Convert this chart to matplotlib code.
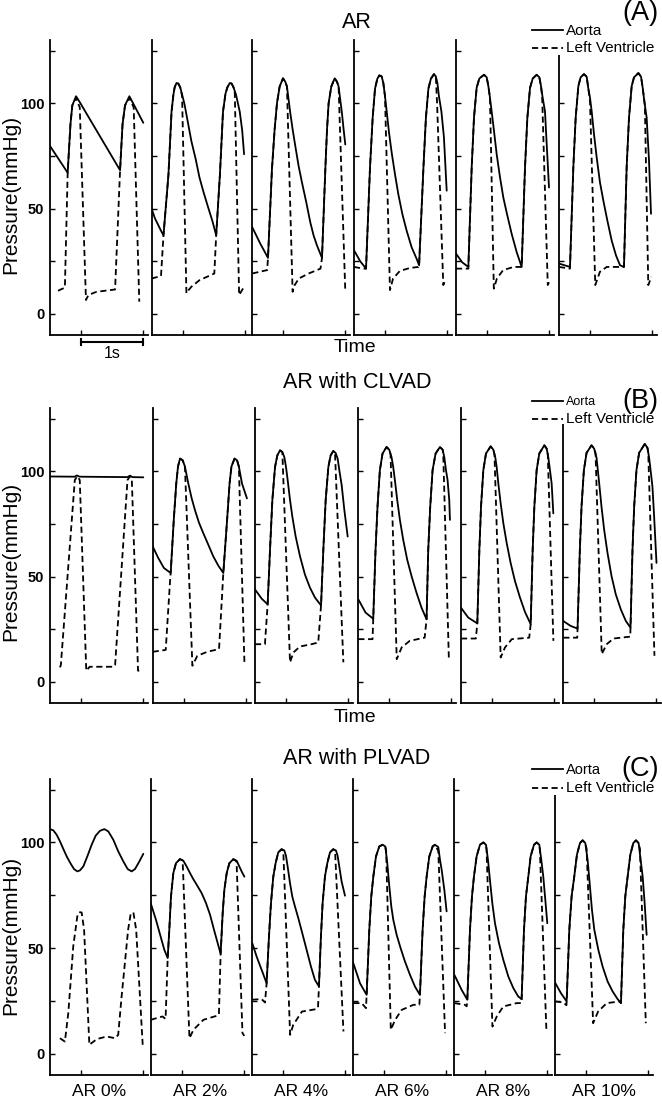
import matplotlib
matplotlib.use("Agg")
import matplotlib.pyplot as plt
from matplotlib.lines import Line2D
from matplotlib.patches import Rectangle
import matplotlib.transforms as mtransforms

plt.rcParams['font.family'] = ['Liberation Sans', 'DejaVu Sans']

# ---------------- data (time s, pressure mmHg) ----------------
row_titles = ["AR", "AR with CLVAD", "AR with PLVAD"]
row_tags = ["(A)", "(B)", "(C)"]
col_labels = ["AR 0%", "AR 2%", "AR 4%", "AR 6%", "AR 8%", "AR 10%"]
legend_labels = ["Aorta", "Left Ventricle"]
ytick_values = [0, 25, 50, 75, 100, 125]
ytick_labels = ["0", "", "50", "", "100", ""]
xtick_values = [0.5, 1.5]

# Row A: AR
A0_AORTA = [(0,79.7),(0.285,67),(0.33,90),(0.36,99),(0.42,103.3),(0.48,100.5),(1.13,68.2),(1.17,90),(1.21,99),(1.28,103.3),(1.34,100),(1.505,90.7)]
A0_LV = [(0.13,11),(0.24,12.5),(0.285,67),(0.33,90),(0.36,99),(0.42,102.5),(0.48,98),(0.58,6.6),(0.62,9),(0.75,10.5),(1.05,11.6),(1.13,68.2),(1.17,90),(1.21,99),(1.28,102.5),(1.35,98),(1.44,5.8)]
A2_AORTA = [(0,49.9),(0.05,45.5),(0.1,42.5),(0.15,39.5),(0.19,37.3),(0.27,66),(0.32,96),(0.35,104),(0.37,107.5),(0.40,109.6),(0.43,109.3),(0.46,107.5),(0.50,103),(0.53,99.4),(0.585,90.7),(0.64,82),(0.71,73.4),(0.77,64.8),(0.84,57.4),(0.91,50.6),(0.98,44),(1.04,37.3),(1.10,66),(1.15,96),(1.19,104.5),(1.22,107.5),(1.26,109.6),(1.29,109.3),(1.32,107.5),(1.36,104),(1.42,96),(1.46,87),(1.49,75.8)]
A2_LV = [(0,16.8),(0.15,18),(0.19,37.3),(0.27,66),(0.32,96),(0.35,104),(0.37,107.5),(0.40,109.6),(0.43,109.3),(0.46,107.5),(0.49,103.5),(0.56,9.8),(0.60,11.5),(0.64,12.9),(0.77,16),(1.01,19.2),(1.04,37.3),(1.10,66),(1.15,96),(1.19,104.5),(1.22,107.5),(1.26,109.6),(1.29,109.3),(1.32,107.5),(1.34,105),(1.41,9),(1.49,12.9)]
A4_AORTA = [(0,41.1),(0.13,33.3),(0.253,26.6),(0.317,68.7),(0.36,87.5),(0.398,100),(0.441,107.9),(0.495,111.8),(0.532,110.2),(0.559,107.9),(0.586,101.6),(0.613,95.3),(0.651,87.5),(0.694,79.6),(0.747,70.2),(0.801,62.4),(0.871,52.9),(0.935,43.5),(0.989,37.2),(1.043,32.5),(1.124,26.6),(1.178,68.7),(1.205,87.5),(1.231,100),(1.274,107.9),(1.328,111.8),(1.366,110.2),(1.392,107.9),(1.419,101.6),(1.446,95.3),(1.473,87.5),(1.50,80.4)]
A4_LV = [(0,19.2),(0.24,20.8),(0.253,26.6),(0.317,68.7),(0.36,87.5),(0.398,100),(0.441,107.9),(0.495,111.8),(0.532,110.2),(0.559,107.9),(0.65,10.5),(0.68,13.5),(0.75,16.8),(0.91,19.2),(1.10,21.5),(1.124,26.6),(1.178,68.7),(1.205,87.5),(1.231,100),(1.274,107.9),(1.328,111.8),(1.366,110.2),(1.392,107.9),(1.50,10.5)]
A6_AORTA = [(0,30.2),(0.10,25),(0.194,21.5),(0.258,69.5),(0.301,93.1),(0.339,106.9),(0.376,111.6),(0.409,113.2),(0.446,112.7),(0.473,109.6),(0.50,103.3),(0.527,96.2),(0.565,86),(0.608,76.5),(0.661,66.3),(0.715,56.8),(0.78,47.4),(0.849,39.5),(0.93,31.6),(1.011,26.1),(1.05,23.1),(1.12,69.5),(1.16,93.1),(1.20,106.9),(1.24,111.6),(1.29,113.8),(1.32,112.7),(1.345,109.6),(1.37,103.3),(1.41,96),(1.45,84),(1.495,58.5)]
A6_LV = [(0,22.3),(0.15,21.5),(0.194,21.5),(0.258,69.5),(0.301,93.1),(0.339,106.9),(0.376,111.6),(0.409,113.2),(0.446,112.7),(0.473,109.6),(0.50,103.3),(0.58,11.3),(0.63,16.8),(0.74,20.4),(0.90,21.8),(1.04,22.3),(1.05,23.1),(1.12,69.5),(1.16,93.1),(1.20,106.9),(1.24,111.6),(1.29,113.8),(1.32,112.7),(1.34,100),(1.44,13.7),(1.46,15)]
A8_AORTA = [(0,28.6),(0.10,24.5),(0.199,22.3),(0.253,69.5),(0.29,93.1),(0.333,107.3),(0.376,111.7),(0.452,113.5),(0.495,112.3),(0.522,108.1),(0.548,102.6),(0.575,96.2),(0.613,86.8),(0.656,75.8),(0.71,64.8),(0.763,55.3),(0.828,46.7),(0.898,38),(0.978,29.4),(1.059,22.3),(1.113,69.5),(1.151,93.1),(1.194,107.3),(1.237,111.7),(1.301,113.5),(1.344,112.3),(1.371,108.1),(1.398,102.6),(1.435,96.2),(1.462,81.1),(1.50,60)]
A8_LV = [(0,21.5),(0.199,21.5),(0.253,69.5),(0.29,93.1),(0.333,107.3),(0.376,111.7),(0.452,113.5),(0.495,112.3),(0.522,108.1),(0.548,102.6),(0.61,12),(0.66,16.8),(0.76,20.8),(0.93,22.3),(1.059,22.3),(1.113,69.5),(1.151,93.1),(1.194,107.3),(1.237,111.7),(1.301,113.5),(1.344,112.3),(1.371,108.1),(1.39,102.6),(1.48,13.7),(1.50,15)]
A10_AORTA = [(0,23.9),(0.177,22.3),(0.231,69.5),(0.269,93.1),(0.312,108.1),(0.349,112.3),(0.403,113.8),(0.446,112.6),(0.473,107),(0.50,102.6),(0.527,96.2),(0.565,85.2),(0.608,74.2),(0.661,62.4),(0.715,53.8),(0.78,44.3),(0.849,34.9),(0.919,27.8),(0.984,23.1),(1.048,22.3),(1.091,69.5),(1.129,93.1),(1.172,108.1),(1.21,112.3),(1.28,114.3),(1.323,112.6),(1.35,107.3),(1.376,101),(1.414,93.1),(1.452,72.6),(1.484,47.5)]
A10_LV = [(0,22.3),(0.177,21.5),(0.231,69.5),(0.269,93.1),(0.312,108.1),(0.349,112.3),(0.403,113.8),(0.446,112.6),(0.473,107),(0.50,101),(0.585,13.7),(0.66,20),(0.77,22.3),(1.048,22.3),(1.091,69.5),(1.129,93.1),(1.172,108.1),(1.21,112.3),(1.28,114.3),(1.323,112.6),(1.35,107.3),(1.385,99),(1.44,13.7),(1.49,17.6)]

# Row B: AR with CLVAD
B0_AORTA = [(0,97.5),(0.40,97.4),(0.43,98),(0.48,97.4),(1.25,97.2),(1.29,97.9),(1.33,97.2),(1.505,97.1)]
B0_LV = [(0.16,6.9),(0.175,8),(0.40,95.8),(0.44,97.6),(0.48,95.8),(0.585,5.3),(0.64,7.2),(1.03,7.2),(1.05,8),(1.25,95.8),(1.29,97.6),(1.32,95.8),(1.42,5.3),(1.45,5.6)]
B2_AORTA = [(0,64.3),(0.09,58.8),(0.18,54.1),(0.29,51.7),(0.34,76.9),(0.38,94.2),(0.408,102.2),(0.44,106),(0.483,105.2),(0.52,102.2),(0.574,94.2),(0.628,87.2),(0.681,81.6),(0.746,75.6),(0.816,70.6),(0.897,65.1),(0.977,59.6),(1.058,55.2),(1.139,51.7),(1.20,76.9),(1.24,94.2),(1.27,102.2),(1.32,106),(1.36,105.2),(1.39,102.2),(1.44,94.2),(1.52,87.1)]
B2_LV = [(0,14.3),(0.21,15.2),(0.28,48),(0.29,51.7),(0.34,76.9),(0.38,94.2),(0.408,102.2),(0.44,106),(0.483,105.2),(0.52,102.2),(0.64,7.7),(0.72,12.4),(0.88,14.3),(1.07,15.6),(1.139,51.7),(1.20,76.9),(1.24,94.2),(1.27,102.2),(1.32,106),(1.36,105.2),(1.39,102.2),(1.48,8.5)]
B4_AORTA = [(0,43.9),(0.108,39.5),(0.204,36.8),(0.242,62.7),(0.28,86.3),(0.323,102),(0.36,107.5),(0.403,109.9),(0.441,109.1),(0.473,106.7),(0.50,102),(0.527,95.8),(0.565,86.3),(0.602,78.5),(0.656,69),(0.726,59.6),(0.806,50.9),(0.887,44.7),(0.968,40),(1.065,36.3),(1.102,62.7),(1.14,86.3),(1.183,102),(1.22,107.5),(1.263,109.6),(1.30,108.7),(1.333,106),(1.36,100.5),(1.398,93.4),(1.441,81.6),(1.495,69)]
B4_LV = [(0,17.9),(0.16,17.9),(0.204,36.8),(0.242,62.7),(0.28,86.3),(0.323,102),(0.36,107.5),(0.403,109.9),(0.441,109.1),(0.565,9.3),(0.62,14),(0.725,16.8),(0.91,17.9),(1.02,18.7),(1.065,36.3),(1.102,62.7),(1.14,86.3),(1.183,102),(1.22,107.5),(1.263,109.6),(1.29,108.9),(1.425,9.3)]
B6_AORTA = [(0,39.2),(0.117,32.9),(0.241,30),(0.278,62.7),(0.31,83.2),(0.348,100.5),(0.391,108.4),(0.456,111.5),(0.499,110.2),(0.536,106.7),(0.563,102),(0.59,95.8),(0.628,86.3),(0.671,76.9),(0.724,67.5),(0.789,58),(0.859,50.2),(0.939,42.3),(1.02,35.2),(1.101,29.7),(1.128,62.7),(1.16,83.2),(1.198,100.5),(1.247,108.4),(1.317,111.5),(1.36,110.2),(1.387,106.7),(1.414,100.5),(1.44,95.8),(1.467,86.3),(1.478,76.9)]
B6_LV = [(0,20.3),(0.23,20.3),(0.241,30),(0.278,62.7),(0.31,83.2),(0.348,100.5),(0.391,108.4),(0.456,111.5),(0.499,110.2),(0.52,108),(0.62,10.8),(0.70,16.4),(0.83,19.5),(1.07,21),(1.101,29.7),(1.128,62.7),(1.16,83.2),(1.198,100.5),(1.247,108.4),(1.317,111.5),(1.36,110.2),(1.37,108.5),(1.46,11.6)]
B8_AORTA = [(0,35.2),(0.118,30.5),(0.263,27.8),(0.296,62.7),(0.323,83.2),(0.36,100.5),(0.403,108.4),(0.478,111.8),(0.522,110.2),(0.554,106.4),(0.575,102),(0.602,94.2),(0.64,84.7),(0.683,75.3),(0.737,65.9),(0.801,56.4),(0.871,47.8),(0.952,40),(1.032,33.2),(1.124,27.4),(1.156,62.7),(1.183,83.2),(1.22,100.5),(1.263,108.4),(1.344,112.3),(1.382,110.7),(1.409,106.4),(1.435,100.5),(1.462,94.2),(1.489,80)]
B8_LV = [(0,20.6),(0.24,20.6),(0.263,27.8),(0.296,62.7),(0.323,83.2),(0.36,100.5),(0.403,108.4),(0.478,111.8),(0.522,110.2),(0.54,108),(0.64,11.6),(0.71,16.4),(0.82,20.3),(1.10,21),(1.124,27.4),(1.156,62.7),(1.183,83.2),(1.22,100.5),(1.263,108.4),(1.344,112.3),(1.382,110.7),(1.40,108),(1.49,19.5)]
B10_AORTA = [(0,28.9),(0.117,26.6),(0.23,25.3),(0.267,62.7),(0.294,83.2),(0.332,100.5),(0.375,108.7),(0.455,112.3),(0.498,110.7),(0.536,106.4),(0.557,100.5),(0.579,94.2),(0.616,83.2),(0.659,72.2),(0.713,61.2),(0.778,50.2),(0.847,41.5),(0.928,34.4),(1.009,28.9),(1.084,25.8),(1.116,62.7),(1.143,83.2),(1.18,100.5),(1.223,108.7),(1.315,113),(1.358,111),(1.384,106.4),(1.411,99.7),(1.438,92.6),(1.465,78.5),(1.503,56.5)]
B10_LV = [(0,21),(0.225,21),(0.23,25.3),(0.267,62.7),(0.294,83.2),(0.332,100.5),(0.375,108.7),(0.455,112.3),(0.498,110.7),(0.52,108.5),(0.62,13.2),(0.70,17.9),(0.81,20.6),(1.08,21.5),(1.084,25.8),(1.116,62.7),(1.143,83.2),(1.18,100.5),(1.223,108.7),(1.315,113),(1.358,111),(1.37,109),(1.47,12.4)]

# Row C: AR with PLVAD
C0_AORTA = [(0,106.3),(0.054,105.7),(0.108,103.6),(0.161,100.5),(0.215,96.9),(0.269,93.4),(0.333,90),(0.387,87.4),(0.441,86.3),(0.484,86.8),(0.538,88.7),(0.602,93.4),(0.672,98.9),(0.737,103.2),(0.806,105.5),(0.876,106.3),(0.941,105.2),(1.022,101.2),(1.102,95.7),(1.183,91),(1.253,87.4),(1.317,86.3),(1.371,87.4),(1.441,91),(1.505,94.6)]
C0_LV = [(0.16,7.4),(0.24,5.8),(0.295,19.3),(0.375,50.8),(0.44,65),(0.47,67),(0.51,66.9),(0.55,58.7),(0.635,4.3),(0.755,7),(0.915,8.2),(1.05,7.4),(1.10,9),(1.155,27.1),(1.26,58.7),(1.30,66),(1.345,66.9),(1.39,58.7),(1.495,4.3)]
C2_AORTA = [(0,71.3),(0.085,63.4),(0.16,55.5),(0.22,49.2),(0.274,45.3),(0.30,58.6),(0.327,74.4),(0.365,85.5),(0.408,90.2),(0.472,92.1),(0.527,91.3),(0.58,88.6),(0.634,85.5),(0.688,82.6),(0.752,79.5),(0.822,76),(0.892,71.3),(0.957,65.8),(1.021,58.7),(1.08,52.4),(1.128,47.3),(1.161,66.6),(1.188,77.6),(1.226,85.5),(1.269,90.2),(1.333,92.1),(1.387,91.3),(1.43,88.6),(1.468,86.2),(1.511,83.8)]
C2_LV = [(0,16.1),(0.19,17.7),(0.24,16.5),(0.274,45.3),(0.30,58.6),(0.327,74.4),(0.365,85.5),(0.408,90.2),(0.472,92.1),(0.515,91.5),(0.625,7.4),(0.69,11.4),(0.85,16.1),(1.065,18),(1.10,18.5),(1.128,47.3),(1.161,66.6),(1.188,77.6),(1.226,85.5),(1.269,90.2),(1.333,92.1),(1.385,91),(1.48,9.8),(1.51,8.5)]
C4_AORTA = [(0,52.3),(0.07,46),(0.151,39.7),(0.231,33.4),(0.269,55.5),(0.301,71.3),(0.339,83.9),(0.376,90.2),(0.419,95.3),(0.473,96.8),(0.516,96.2),(0.543,93.7),(0.57,88.6),(0.608,80.8),(0.645,74.4),(0.688,69.7),(0.742,64.2),(0.806,57.1),(0.876,49.2),(0.946,41.3),(1.01,35),(1.075,31.9),(1.107,55.5),(1.134,71.3),(1.172,83.9),(1.21,90.2),(1.253,95.3),(1.306,96.8),(1.349,96.2),(1.376,93.7),(1.403,88.6),(1.44,81.6),(1.495,74.8)]
C4_LV = [(0,25.6),(0.15,25.9),(0.205,24.3),(0.231,33.4),(0.269,55.5),(0.301,71.3),(0.339,83.9),(0.376,90.2),(0.419,95.3),(0.473,96.8),(0.50,96),(0.61,9),(0.66,13.7),(0.80,20),(1.04,21.2),(1.06,22),(1.075,31.9),(1.107,55.5),(1.134,71.3),(1.172,83.9),(1.21,90.2),(1.253,95.3),(1.306,96.8),(1.335,96),(1.47,10.6)]
C6_AORTA = [(0,42.9),(0.108,33.4),(0.215,27.9),(0.258,58.7),(0.29,74.5),(0.323,83.9),(0.366,93.4),(0.419,98.1),(0.473,98.9),(0.516,98.1),(0.548,90.2),(0.581,79.2),(0.613,69.7),(0.645,63.4),(0.699,56.3),(0.763,50),(0.833,43.7),(0.914,37.4),(0.995,31.8),(1.075,27.9),(1.118,58.7),(1.151,74.5),(1.183,83.9),(1.226,93.4),(1.28,98.1),(1.317,98.9),(1.371,97.8),(1.398,91.8),(1.425,87.1),(1.468,77.6),(1.505,67.4)]
C6_LV = [(0,24),(0.135,24),(0.205,21.6),(0.215,27.9),(0.258,58.7),(0.29,74.5),(0.323,83.9),(0.366,93.4),(0.419,98.1),(0.473,98.9),(0.516,98.1),(0.53,96),(0.605,11.4),(0.675,16.1),(0.78,20.8),(0.97,23.2),(1.065,23.2),(1.075,27.9),(1.118,58.7),(1.151,74.5),(1.183,83.9),(1.226,93.4),(1.28,98.1),(1.317,98.9),(1.371,96),(1.48,9.8)]
C8_AORTA = [(0,37.4),(0.118,30.3),(0.21,25.6),(0.253,58.7),(0.285,74.5),(0.317,83.9),(0.36,93.4),(0.414,98.9),(0.468,100),(0.511,98.9),(0.543,91.8),(0.575,82.3),(0.613,71.3),(0.656,61.8),(0.72,52.4),(0.79,44.5),(0.871,36.6),(0.952,31.1),(1.032,27.1),(1.086,25.9),(1.124,58.7),(1.156,74.5),(1.194,83.9),(1.231,93.4),(1.285,98.9),(1.328,100),(1.371,98.9),(1.403,91.8),(1.435,83.9),(1.468,72.8),(1.50,61.8)]
C8_LV = [(0,24),(0.17,23.2),(0.20,22.5),(0.21,25.6),(0.253,58.7),(0.285,74.5),(0.317,83.9),(0.36,93.4),(0.414,98.9),(0.468,100),(0.511,98.9),(0.52,96.5),(0.615,12.9),(0.685,17.7),(0.79,22.4),(1.005,24),(1.08,24),(1.086,25.9),(1.124,58.7),(1.156,74.5),(1.194,83.9),(1.231,93.4),(1.285,98.9),(1.328,100),(1.371,98.9),(1.38,96.5),(1.485,11.4)]
C10_AORTA = [(0,33.5),(0.091,28.7),(0.183,24.8),(0.226,58.7),(0.263,74.5),(0.306,83.9),(0.349,94.2),(0.398,99.7),(0.441,101),(0.484,99.7),(0.521,91.8),(0.554,80.8),(0.591,68.2),(0.629,58.7),(0.694,49.2),(0.763,41.3),(0.844,34.2),(0.925,29.5),(1.005,25.9),(1.059,24),(1.097,58.7),(1.129,74.5),(1.167,83.9),(1.21,94.2),(1.258,99.7),(1.301,101),(1.344,99.7),(1.376,91.8),(1.409,83.9),(1.441,71.3),(1.473,56.3)]
C10_LV = [(0,24.8),(0.13,24.3),(0.18,23),(0.183,24.8),(0.226,58.7),(0.263,74.5),(0.306,83.9),(0.349,94.2),(0.398,99.7),(0.441,101),(0.484,99.7),(0.505,97),(0.61,14.5),(0.69,20),(0.83,24),(1.04,24.8),(1.059,24),(1.097,58.7),(1.129,74.5),(1.167,83.9),(1.21,94.2),(1.258,99.7),(1.301,101),(1.344,99.7),(1.365,97),(1.46,14.5)]

ROWS = [
    [(A0_AORTA, A0_LV), (A2_AORTA, A2_LV), (A4_AORTA, A4_LV), (A6_AORTA, A6_LV), (A8_AORTA, A8_LV), (A10_AORTA, A10_LV)],
    [(B0_AORTA, B0_LV), (B2_AORTA, B2_LV), (B4_AORTA, B4_LV), (B6_AORTA, B6_LV), (B8_AORTA, B8_LV), (B10_AORTA, B10_LV)],
    [(C0_AORTA, C0_LV), (C2_AORTA, C2_LV), (C4_AORTA, C4_LV), (C6_AORTA, C6_LV), (C8_AORTA, C8_LV), (C10_AORTA, C10_LV)],
]

# ---------------- layout (pixels) ----------------
W, H = 662, 1100
fig = plt.figure(figsize=(W / 100, H / 100), dpi=100)

def fx(px):
    return px / W

def fy(py):
    return 1 - py / H

row_top = [40, 408, 779]
row_bottom = [335, 703, 1075]
row_left = [[50, 151.7, 252.3, 354, 456, 559],
            [50, 152.7, 255, 358.3, 461, 563.3],
            [50, 150.7, 252.3, 353.3, 454.3, 555.3]]
panel_w = 98
px_per_s = 62.0

LW = 1.3
DASH = (3.4, 2.0)

axes = []
for r in range(3):
    for c in range(6):
        l = row_left[r][c]
        ax = fig.add_axes([fx(l), fy(row_bottom[r]), fx(panel_w), (row_bottom[r] - row_top[r]) / H])
        ax.patch.set_visible(False)
        aorta, lv = ROWS[r][c]
        ax.plot([p[0] for p in aorta], [p[1] for p in aorta], color='black', lw=LW,
                solid_joinstyle='round', solid_capstyle='round')
        ax.plot([p[0] for p in lv], [p[1] for p in lv], color='black', lw=LW, linestyle=(0, DASH))
        ax.set_xlim(0, panel_w / px_per_s)
        ax.set_ylim(-10, 130)
        for s in ['top', 'right']:
            ax.spines[s].set_visible(False)
        for s in ['left', 'bottom']:
            ax.spines[s].set_linewidth(1.3)
        ax.set_xticks(xtick_values)
        ax.set_xticklabels([])
        ax.set_yticks(ytick_values)
        if c == 0:
            ax.set_yticklabels(ytick_labels, fontsize=10.5, fontweight='bold')
        else:
            ax.set_yticklabels([])
        ax.tick_params(direction='in', length=3.5, width=1.0, pad=4)
        axes.append(ax)

# titles, tags, labels
title_y = [22, 383, 758]
for r in range(3):
    fig.text(fx(357), fy(title_y[r]), row_titles[r], ha='center', va='center', fontsize=15.5)
tag_y = [13, 401, 769]
for r in range(3):
    fig.text(fx(640), fy(tag_y[r]), row_tags[r], ha='center', va='center', fontsize=19.5, zorder=12)

ylab_y = [194, 561, 935]
for r in range(3):
    fig.text(fx(11), fy(ylab_y[r]), "Pressure(mmHg)", rotation=90, ha='center', va='center', fontsize=15)

for y in [348, 718]:
    fig.text(fx(355), fy(y), "Time", ha='center', va='center', fontsize=14)

for c in range(6):
    fig.text(fx(row_left[2][c] + 49), fy(1092), col_labels[c], ha='center', va='center', fontsize=12.5)

# legends (white box hides the top of the last panel)
box_top = [18, 390, 757]
box_bottom = [55, 424, 795]
leg_y = [(30, 48), (401, 419), (769, 788)]
aorta_fs = [11, 9.0, 10.5]
for r in range(3):
    fig.add_artist(Rectangle((fx(528), fy(box_bottom[r])), fx(662 - 528), (box_bottom[r] - box_top[r]) / H,
                             transform=fig.transFigure, facecolor='white', edgecolor='none', zorder=10))
    ya, yl = leg_y[r]
    fig.add_artist(Line2D([fx(532), fx(563)], [fy(ya), fy(ya)], transform=fig.transFigure,
                          color='black', lw=LW, zorder=11))
    fig.add_artist(Line2D([fx(532), fx(563)], [fy(yl), fy(yl)], transform=fig.transFigure,
                          color='black', lw=LW, linestyle=(0, DASH), zorder=11))
    fig.text(fx(566), fy(ya + 1), legend_labels[0], ha='left', va='center', fontsize=aorta_fs[r], zorder=12)
    fig.text(fx(566), fy(yl), legend_labels[1], ha='left', va='center', fontsize=11, zorder=12)

# 1 s scale bar under first panel of row A
ax0 = axes[0]
tr = mtransforms.blended_transform_factory(ax0.transData, fig.transFigure)
ax0.add_line(Line2D([0.5, 1.5], [fy(341.7), fy(341.7)], transform=tr, color='black', lw=1.5, clip_on=False))
for xs in [0.5, 1.5]:
    ax0.add_line(Line2D([xs, xs], [fy(338.5), fy(345)], transform=tr, color='black', lw=1.5, clip_on=False))
fig.text(fx(112), fy(353), "1s", ha='center', va='center', fontsize=11.5)

fig.savefig("out.png", dpi=100)
